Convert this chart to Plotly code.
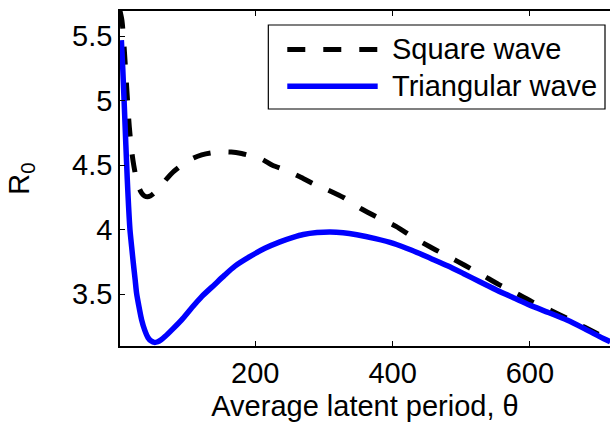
import plotly.graph_objects as go

# Average latent period (theta) and basic reproduction number R0 for two forcing shapes
theta_square = [3, 5.9, 9.7, 13, 16.5, 20, 23, 27, 31, 35, 39, 43, 47, 52, 58, 65, 72, 80, 88,
                98, 110, 122, 135, 150, 165, 180, 195, 210, 225, 245, 265, 285, 305, 330, 355,
                380, 405, 430, 455, 480, 505, 530, 555, 580, 605, 630, 655, 680, 705, 717]
r0_square = [5.696, 5.62, 5.36, 5.08, 4.80, 4.61, 4.50, 4.39, 4.32, 4.28, 4.26, 4.255, 4.26, 4.28,
             4.31, 4.355, 4.40, 4.445, 4.48, 4.52, 4.555, 4.58, 4.595, 4.603, 4.602, 4.59, 4.57,
             4.545, 4.50, 4.46, 4.41, 4.355, 4.31, 4.245, 4.16, 4.09, 4.025, 3.94, 3.865, 3.795,
             3.723, 3.65, 3.573, 3.507, 3.435, 3.374, 3.31, 3.242, 3.175, 3.145]

theta_tri = [5, 7, 9.5, 11.5, 13.6, 15.5, 17.5, 20, 22.4, 25, 27.2, 30, 34.5, 39, 44, 48.5, 53,
             58, 63, 68.5, 80, 92.8, 107, 122, 141, 155, 170, 192, 214, 236, 255, 270, 290, 309,
             328, 348, 375, 401, 428, 455, 480, 503, 527, 552, 576, 600, 627, 654, 680, 707, 717]
r0_tri = [5.47, 5.25, 4.93, 4.66, 4.39, 4.18, 4.00, 3.865, 3.74, 3.615, 3.505, 3.42, 3.30, 3.22,
          3.16, 3.135, 3.125, 3.13, 3.145, 3.17, 3.23, 3.30, 3.39, 3.48, 3.575, 3.645, 3.715,
          3.79, 3.855, 3.905, 3.94, 3.962, 3.977, 3.982, 3.976, 3.96, 3.93, 3.894, 3.84, 3.778,
          3.72, 3.66, 3.595, 3.53, 3.472, 3.414, 3.357, 3.298, 3.23, 3.155, 3.13]

series_names = ["Square wave", "Triangular wave"]
x_ticks = [200, 400, 600]
y_ticks = [3.5, 4, 4.5, 5, 5.5]
y_tick_text = ["3.5", "4", "4.5", "5", "5.5"]

FONT = "Liberation Sans, Arial, Helvetica, sans-serif"
FS = 29
DASH = "18px,18px"
BLUE = "#0000ff"

fig = go.Figure()
fig.add_trace(go.Scatter(x=theta_square, y=r0_square, mode="lines", name=series_names[0],
                         line=dict(color="black", width=5, dash=DASH, shape="spline", smoothing=0.7),
                         showlegend=False))
fig.add_trace(go.Scatter(x=theta_tri, y=r0_tri, mode="lines", name=series_names[1],
                         line=dict(color=BLUE, width=5.5, shape="spline", smoothing=0.7),
                         showlegend=False))

# boxed legend in the upper right of the axes
fig.add_shape(type="rect", xref="paper", yref="paper", x0=0.3027, x1=0.9898, y0=0.7075, y1=0.9582,
              line=dict(color="black", width=1.2), fillcolor="white", layer="above")
fig.add_shape(type="line", xref="paper", yref="paper", x0=0.3414, x1=0.5259, y0=0.8851, y1=0.8851,
              line=dict(color="black", width=5, dash=DASH), layer="above")
fig.add_shape(type="line", xref="paper", yref="paper", x0=0.3414, x1=0.5259, y0=0.7752, y1=0.7752,
              line=dict(color=BLUE, width=5.5), layer="above")
for name, yy in zip(series_names, [0.8851, 0.7752]):
    fig.add_annotation(xref="paper", yref="paper", x=0.551, y=yy, text=name, showarrow=False,
                       xanchor="left", yanchor="middle", font=dict(family=FONT, size=FS, color="black"))

fig.update_layout(
    width=610, height=429,
    margin=dict(l=120, r=0, t=11, b=83),
    paper_bgcolor="white", plot_bgcolor="white",
    font=dict(family=FONT, size=FS, color="black"),
)
fig.update_xaxes(
    range=[3, 716.7], tickvals=x_ticks, ticks="inside", ticklen=5, tickwidth=1.3, tickcolor="black",
    showline=True, linecolor="black", linewidth=1.5, mirror="ticks", showgrid=False, zeroline=False,
    tickfont=dict(family=FONT, size=FS), title=dict(text="Average latent period, θ", standoff=8,
                                                     font=dict(family=FONT, size=FS)),
)
fig.update_yaxes(
    range=[3.097, 5.696], tickvals=y_ticks, ticktext=y_tick_text, ticks="inside", ticklen=5,
    tickwidth=1.3, tickcolor="black", showline=True, linecolor="black", linewidth=1.5, mirror=False,
    showgrid=False, zeroline=False, tickfont=dict(family=FONT, size=FS),
    title=dict(text="R<sub>0</sub>", standoff=34, font=dict(family=FONT, size=FS)),
)

fig.write_html("out.html")
